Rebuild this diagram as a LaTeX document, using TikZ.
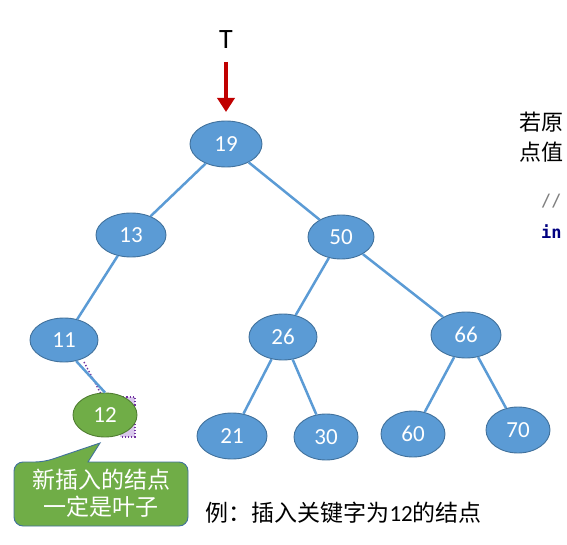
\documentclass[tikz,border=0pt]{standalone}
\usepackage{fontspec}
\setmainfont{Carlito}
\newfontfamily\cjk{Noto Sans CJK SC}
\setmonofont{DejaVu Sans Mono}
\definecolor{nodeblue}{HTML}{5B9BD5}
\definecolor{nodeborder}{HTML}{41719C}
\definecolor{leafgreen}{HTML}{70AD47}
\definecolor{greenborder}{HTML}{507E32}
\definecolor{arrowred}{HTML}{C00000}
\definecolor{selpurple}{HTML}{7030A0}
\definecolor{sellav}{HTML}{D9C8EC}
\definecolor{codeblue}{HTML}{000080}
\usetikzlibrary{shapes.geometric,arrows.meta}
\tikzset{
  bnode/.style={ellipse, draw=nodeborder, fill=nodeblue, line width=0.9pt,
    minimum width=#1, minimum height=46pt, inner sep=0pt,
    text=white, font=\fontsize{23}{23}\selectfont},
  bnode/.default=68pt,
  gnode/.style={ellipse, draw=greenborder, fill=leafgreen, line width=0.9pt,
    minimum width=64pt, minimum height=44pt, inner sep=0pt,
    text=white, font=\fontsize{23}{23}\selectfont},
  edge/.style={draw=nodeblue, line width=2.5pt},
}
\begin{document}
\begin{tikzpicture}[x=1pt,y=-1pt]
\useasboundingbox (0,0) rectangle (567,545);
\clip (0,0) rectangle (567,545);
% selection artifact near 12
\draw[selpurple, dotted, line width=1.4pt] (84,362) -- (101,394);
\draw[selpurple, dotted, line width=1.2pt, fill=sellav] (120,397) -- (135,397) -- (135,437) -- (120,437);
% nodes
\node[bnode=72pt] (n19) at (226,144) {19};
\node[bnode=70pt, minimum height=44pt] (n13) at (131,235) {13};
\node[bnode=66pt, minimum height=44pt] (n50) at (341,237) {50};
\node[bnode=68pt, minimum height=44pt] (n11) at (64,340) {11};
\node[bnode=68pt] (n26) at (283,337) {26};
\node[bnode=70pt] (n66) at (466,335) {66};
\node[bnode=70pt] (n21) at (232,436) {21};
\node[bnode=64pt] (n30) at (326,437) {30};
\node[bnode=64pt] (n60) at (413,434) {60};
\node[bnode=64pt] (n70) at (518,430) {70};
% edges
\draw[edge] (n19) -- (n13);
\draw[edge] (n19) -- (n50);
\draw[edge] (n13) -- (n11);
\draw[edge] (n50) -- (n26);
\draw[edge] (n50) -- (n66);
\draw[edge] (n26) -- (n21);
\draw[edge] (n26) -- (n30);
\draw[edge] (n66) -- (n60);
\draw[edge] (n66) -- (n70);
\node[gnode] (n12) at (105,415) {12};
\draw[edge] (n11.-60) -- (n12.north);
% root pointer
\node[font=\fontsize{28}{28}\selectfont] (T) at (226,40) {T};
\coordinate (arrtop) at (226,62);
\coordinate (arrtip) at (226,112);
\draw[arrowred, line width=4.5pt, -{Triangle[length=14pt,width=17pt]}] (arrtop) -- (arrtip);
% callout
\coordinate (tip) at (100,443);
\draw[draw=nodeborder, line width=0.9pt, fill=leafgreen, rounded corners=9pt]
  (14,526) -- (14,462) -- (44,462) [sharp corners] -- (tip) -- (88,462)
  [rounded corners=9pt] -- (188,462) -- (188,526) -- cycle;
\node[text=white, font=\cjk\fontsize{23}{27}\selectfont, align=center] (calltext) at (101,493) {新插入的结点\\一定是叶子};
% caption
\node[anchor=west, font=\fontsize{23}{23}\selectfont] (caption) at (202,513) {{\cjk 例：插入关键字为}12{\cjk 的结点}};
% clipped text at right edge
\node[anchor=north west, font=\cjk\fontsize{22}{30}\selectfont, align=left, inner sep=0pt] (rtext) at (519,112) {若原\\点值};
\node[anchor=west, font=\ttfamily\fontsize{17}{17}\selectfont, text=gray, inner sep=0pt] (rcomment) at (541,201) {//};
\node[anchor=west, font=\ttfamily\bfseries\fontsize{17}{17}\selectfont, text=codeblue, inner sep=0pt] (rcode) at (541,232) {in};
\end{tikzpicture}
\end{document}
